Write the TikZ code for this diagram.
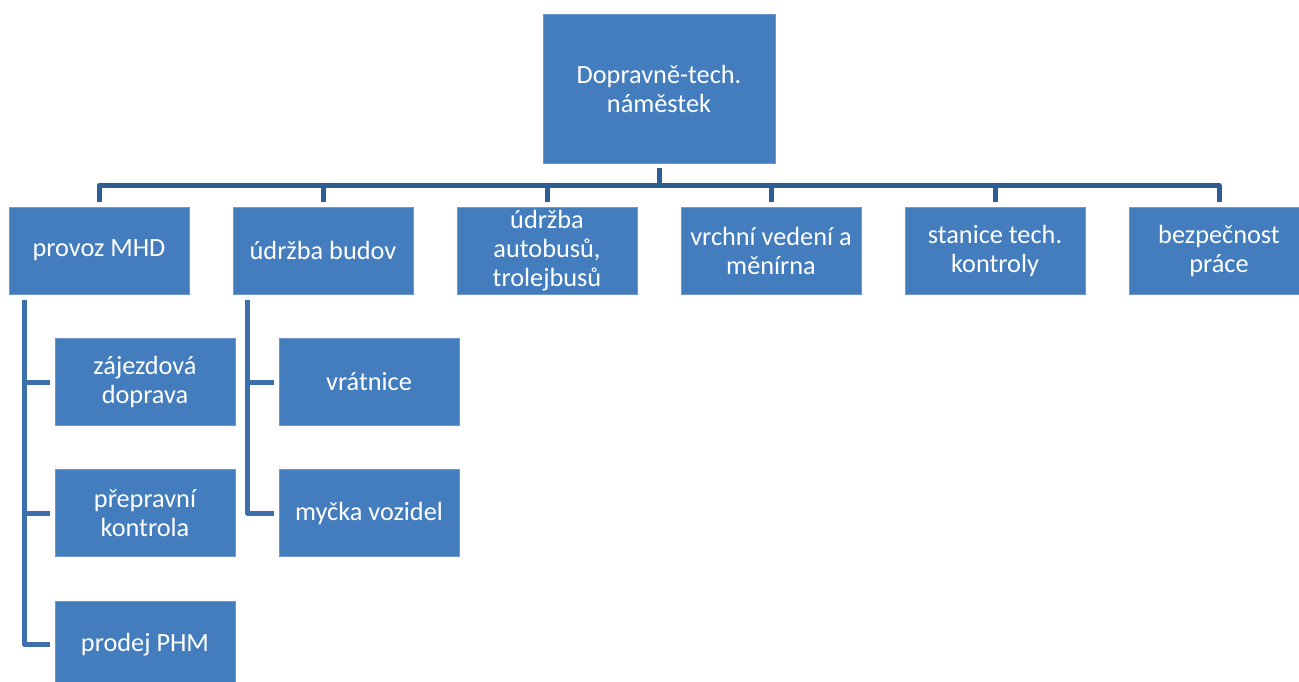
\documentclass[tikz,border=0pt]{standalone}
\usepackage{fontspec}
\setmainfont{Carlito}
\usetikzlibrary{calc}
\definecolor{boxfill}{RGB}{68,125,189}
\definecolor{boxedge}{RGB}{110,152,204}
\definecolor{linkdark}{RGB}{46,93,146}
\definecolor{linklight}{RGB}{60,111,172}
\tikzset{
  orgbox/.style={rectangle, fill=boxfill, draw=boxedge, line width=0.8pt,
    text=white, align=center, inner sep=0pt,
    font=\fontsize{26.3}{29}\selectfont},
  mainbox/.style={orgbox, minimum width=232pt, minimum height=149pt},
  unitbox/.style={orgbox, minimum width=180pt, minimum height=87pt},
  link/.style={draw=linkdark, line width=5pt, line join=round,
    shorten <=5pt, shorten >=5pt},
  sublink/.style={draw=linklight, line width=5pt, line join=round,
    shorten <=6pt, shorten >=5pt}
}
\begin{document}
\begin{tikzpicture}[x=1pt, y=-1pt]
  \clip (0,0) rectangle (1299,682);
  \fill[white] (0,0) rectangle (1299,682);

  % head of the department
  \node[mainbox] (top) at (659,88.5) {Dopravně-tech.\\náměstek};

  % departments
  \node[unitbox] (c1) at (99,250.5)   {provoz MHD};
  \node[unitbox] (c2) at (323,250.5)  {údržba budov};
  \node[unitbox] (c3) at (547,250.5)  {údržba\\autobusů,\\trolejbusů};
  \node[unitbox] (c4) at (771,250.5)  {vrchní vedení a\\měnírna};
  \node[unitbox] (c5) at (995,250.5)  {stanice tech.\\kontroly};
  \node[unitbox] (c6) at (1219,250.5) {bezpečnost\\práce};

  % sections under "provoz MHD"
  \node[unitbox] (s1) at (145,382)   {zájezdová\\doprava};
  \node[unitbox] (s2) at (145,513)   {přepravní\\kontrola};
  \node[unitbox] (s3) at (145,644.5) {prodej PHM};

  % sections under "údržba budov"
  \node[unitbox] (b1) at (369,382) {vrátnice};
  \node[unitbox] (b2) at (369,513) {myčka vozidel};

  % links from the head to the departments
  \foreach \c in {c1,c2,c3,c4,c5,c6}
    \draw[link] (top.south) -- ++(0,22) -| (\c.north);

  % links to the sections
  \foreach \s in {s1,s2,s3}
    \draw[sublink] ($(c1.south west)+(16,0)$) |- (\s.west);
  \foreach \s in {b1,b2}
    \draw[sublink] ($(c2.south west)+(15,0)$) |- (\s.west);
\end{tikzpicture}
\end{document}
